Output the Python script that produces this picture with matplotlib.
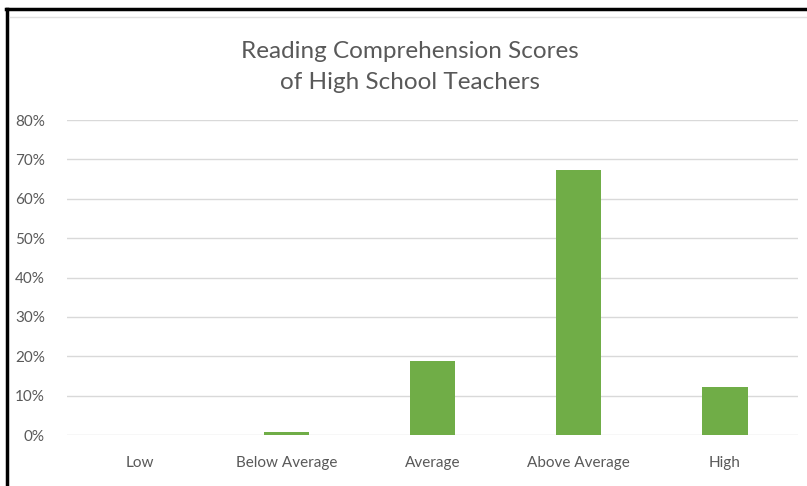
import matplotlib
matplotlib.use('Agg')
import matplotlib.pyplot as plt
from matplotlib.lines import Line2D
from matplotlib.ticker import PercentFormatter

categories = ['Low', 'Below Average', 'Average', 'Above Average', 'High']
scores = [0.0, 0.8, 18.8, 67.4, 12.2]
y_ticks = [0, 10, 20, 30, 40, 50, 60, 70, 80]

plt.rcParams['font.family'] = ['Lato', 'DejaVu Sans']

fig = plt.figure(figsize=(8.07, 4.86), dpi=100)
ax = fig.add_axes([67 / 807, 1 - 435 / 486, 731 / 807, 315 / 486])

x = range(len(categories))
ax.bar(x, scores, width=0.31, color='#70ad47', zorder=3)

ax.set_xlim(-0.5, len(categories) - 0.5)
ax.set_ylim(0, 80)
ax.set_yticks(y_ticks)
ax.yaxis.set_major_formatter(PercentFormatter(decimals=0))
ax.set_xticks(list(x))
ax.set_xticklabels(categories)
ax.grid(axis='y', color='#d9d9d9', linewidth=1, zorder=0)
for s in ax.spines.values():
    s.set_visible(False)
ax.tick_params(axis='both', length=0, colors='#595959', labelsize=11)
ax.tick_params(axis='y', pad=16)
ax.tick_params(axis='x', pad=15)

fig.text(0.508, 1 - 67 / 486, 'Reading Comprehension Scores\nof High School Teachers',
         ha='center', va='center', fontsize=17.5, color='#595959', linespacing=1.6)

# border of the screenshot
fig.add_artist(Line2D([6 / 807, 1], [1 - 9 / 486, 1 - 9 / 486], color='black', linewidth=2.5))
fig.add_artist(Line2D([7 / 807, 7 / 807], [0, 1 - 9 / 486], color='black', linewidth=2.5))
fig.add_artist(Line2D([10 / 807, 1], [1 - 17 / 486, 1 - 17 / 486], color='#e0e0e0', linewidth=1))

fig.savefig('out.png', dpi=100)
